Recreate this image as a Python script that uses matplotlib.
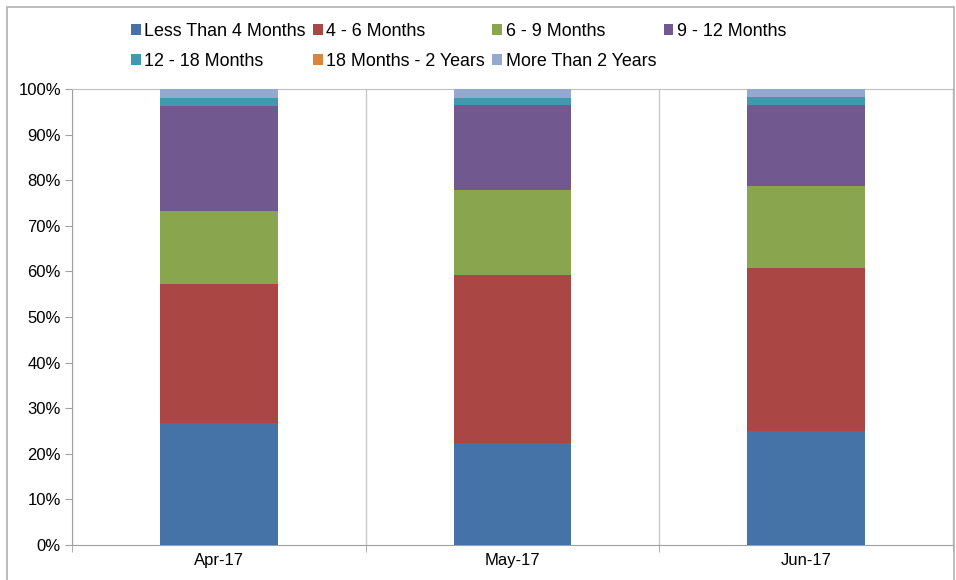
import matplotlib
matplotlib.use("Agg")
import matplotlib.pyplot as plt
import numpy as np
from matplotlib.patches import Rectangle
from matplotlib.ticker import FixedLocator, PercentFormatter

plt.rcParams['font.family'] = ['Liberation Sans', 'DejaVu Sans']

months = ["Apr-17", "May-17", "Jun-17"]
series = ["Less Than 4 Months", "4 - 6 Months", "6 - 9 Months", "9 - 12 Months",
          "12 - 18 Months", "18 Months - 2 Years", "More Than 2 Years"]
less_4 = [26.7, 22.4, 25.0]
m4_6 = [30.5, 36.8, 35.7]
m6_9 = [16.0, 18.7, 18.0]
m9_12 = [23.1, 18.5, 17.8]
m12_18 = [1.8, 1.7, 1.7]
m18_24 = [0.0, 0.0, 0.0]
more_2y = [1.9, 1.9, 1.8]
colors = ["#4572A7", "#AA4643", "#89A54E", "#71588F", "#4198AF", "#DB843D", "#93A9CF"]

values = [less_4, m4_6, m6_9, m9_12, m12_18, m18_24, more_2y]

fig = plt.figure(figsize=(9.56, 5.8), dpi=100)
ax = fig.add_axes([72 / 956, 1 - 545 / 580, (953 - 72) / 956, (545 - 89) / 580])

# outer chart frame
fig.patches.append(Rectangle((7 / 956, -0.1), (954 - 7) / 956, 1.1 - 7 / 580,
                             transform=fig.transFigure, fill=False,
                             edgecolor="#B0B0B0", linewidth=1.2))

x = np.arange(len(months))
bottom = np.zeros(len(months))
handles = []
for name, vals, c in zip(series, values, colors):
    vals = np.array(vals)
    h = ax.bar(x, vals, 0.4, bottom=bottom, color=c, label=name, zorder=3)
    handles.append(h)
    bottom += vals

ax.set_xlim(-0.5, 2.5)
ax.set_ylim(0, 100)
ax.set_yticks(np.arange(0, 101, 10))
ax.yaxis.set_major_formatter(PercentFormatter(decimals=0))
ax.set_xticks(x)
ax.set_xticklabels(months)
ax.xaxis.set_minor_locator(FixedLocator([-0.5, 0.5, 1.5, 2.5]))
ax.tick_params(axis='x', which='major', length=0, pad=6, labelsize=12)
ax.tick_params(axis='x', which='minor', length=5, color="#A0A0A0", direction='out')
ax.tick_params(axis='y', length=5, color="#A0A0A0", pad=3, labelsize=12)
ax.grid(axis='x', which='minor', color="#C8C8C8", linewidth=1, zorder=0)
ax.grid(axis='x', which='major', visible=False)
for s in ax.spines.values():
    s.set_color("#A0A0A0")
ax.spines['top'].set_color("#C0C0C0")
ax.spines['right'].set_color("#C8C8C8")

# legend fills column-wise, reorder so it reads row-wise
order = [0, 4, 1, 5, 2, 6, 3]
fig.legend([handles[i] for i in order], [series[i] for i in order],
           loc='upper left', bbox_to_anchor=(122 / 956, 1 - 14 / 580), ncol=4,
           frameon=False, fontsize=12.9, handlelength=0.55, handleheight=0.55,
           handletextpad=0.2, columnspacing=0.4, labelspacing=0.73, borderpad=0)

fig.savefig("out.png", dpi=100)
